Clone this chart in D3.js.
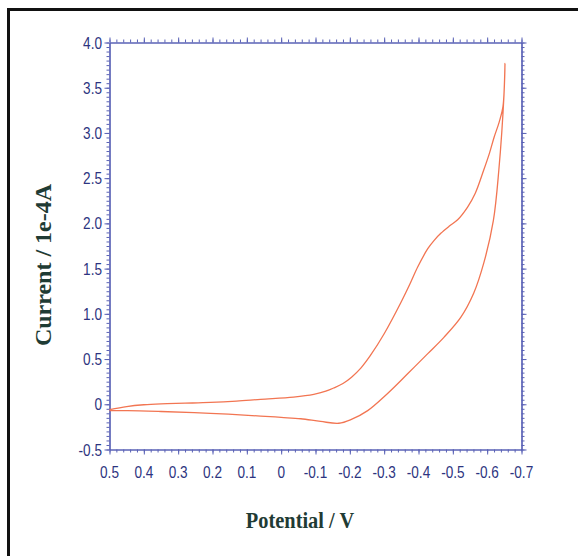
<!DOCTYPE html>
<html>
<head>
<meta charset="utf-8">
<script src="https://cdn.jsdelivr.net/npm/d3@7"></script>
<style>
  html, body { margin: 0; padding: 0; background: #ffffff; }
  svg { display: block; }
  .tick-label { font-family: "Liberation Sans", Arial, sans-serif; font-size: 17px; fill: #2d3480; }
  .axis-title { font-family: "Liberation Serif", "Times New Roman", serif; font-weight: bold; fill: #1f3b34; }
</style>
</head>
<body>
<svg id="chart" width="578" height="556"></svg>
<script>
// Cyclic voltammogram: forward scan (upper branch) then reverse scan (lower branch)
const potential = [
  0.5, 0.45, 0.40, 0.35, 0.28, 0.206, 0.13, 0.06, -0.036, -0.095, -0.13, -0.153, -0.18,
  -0.205, -0.232, -0.26, -0.30, -0.348, -0.375, -0.398, -0.427, -0.445, -0.465, -0.49, -0.514,
  -0.543, -0.565, -0.59, -0.607, -0.62, -0.635, -0.646, -0.652, -0.649,
  -0.634, -0.618, -0.59, -0.561, -0.523, -0.474, -0.427, -0.369, -0.31, -0.252,
  -0.203, -0.168, -0.115, -0.057, 0.0, 0.06, 0.206, 0.35, 0.447, 0.5
];
const current = [
  -0.06, -0.025, -0.005, 0.005, 0.012, 0.02, 0.035, 0.055, 0.08, 0.11, 0.145, 0.18, 0.23,
  0.30, 0.40, 0.54, 0.78, 1.12, 1.33, 1.52, 1.72, 1.81, 1.89, 1.97, 2.04,
  2.18, 2.33, 2.59, 2.78, 2.95, 3.12, 3.29, 3.77, 3.42,
  2.59, 2.03, 1.56, 1.23, 0.96, 0.74, 0.56, 0.34, 0.12, -0.07,
  -0.17, -0.21, -0.19, -0.16, -0.145, -0.13, -0.10, -0.08, -0.07, -0.07
];

const xTicks = [0.5, 0.4, 0.3, 0.2, 0.1, 0, -0.1, -0.2, -0.3, -0.4, -0.5, -0.6, -0.7];
const yTicks = [-0.5, 0, 0.5, 1.0, 1.5, 2.0, 2.5, 3.0, 3.5, 4.0];
const xLabels = ["0.5", "0.4", "0.3", "0.2", "0.1", "0", "-0.1", "-0.2", "-0.3", "-0.4", "-0.5", "-0.6", "-0.7"];
const yLabels = ["-0.5", "0", "0.5", "1.0", "1.5", "2.0", "2.5", "3.0", "3.5", "4.0"];

const svg = d3.select("#chart");
const plot = { left: 109.5, right: 521.5, top: 42.5, bottom: 449.5 };

const x = d3.scaleLinear().domain([0.5, -0.7]).range([plot.left, plot.right]);
const y = d3.scaleLinear().domain([-0.5, 4.0]).range([plot.bottom, plot.top]);

// outer frame
svg.append("rect")
  .attr("x", 8.5).attr("y", 9.5)
  .attr("width", 574).attr("height", 560)
  .attr("fill", "none").attr("stroke", "#111").attr("stroke-width", 3);

const axisColor = "#5a62b6";
const minorX = d3.range(0, 61).map(i => 0.5 - i * 0.02);
const minorY = d3.range(0, 91).map(i => -0.5 + i * 0.05);

function styleAxis(g) {
  g.select(".domain").attr("stroke", axisColor).attr("stroke-width", 1.2);
  g.selectAll(".tick line").attr("stroke", axisColor).attr("stroke-width", 1);
  g.selectAll("text").remove();
}

// minor ticks
svg.append("g").attr("transform", `translate(0,${plot.bottom})`)
  .call(d3.axisBottom(x).tickValues(minorX).tickSize(3).tickSizeOuter(0)).call(styleAxis);
svg.append("g").attr("transform", `translate(0,${plot.top})`)
  .call(d3.axisTop(x).tickValues(minorX).tickSize(3).tickSizeOuter(0)).call(styleAxis);
svg.append("g").attr("transform", `translate(${plot.left},0)`)
  .call(d3.axisLeft(y).tickValues(minorY).tickSize(3).tickSizeOuter(0)).call(styleAxis);
svg.append("g").attr("transform", `translate(${plot.right},0)`)
  .call(d3.axisRight(y).tickValues(minorY).tickSize(3).tickSizeOuter(0)).call(styleAxis);

// major ticks
svg.append("g").attr("transform", `translate(0,${plot.bottom})`)
  .call(d3.axisBottom(x).tickValues(xTicks).tickSize(5).tickSizeOuter(0)).call(styleAxis);
svg.append("g").attr("transform", `translate(0,${plot.top})`)
  .call(d3.axisTop(x).tickValues(xTicks).tickSize(5).tickSizeOuter(0)).call(styleAxis);
svg.append("g").attr("transform", `translate(${plot.left},0)`)
  .call(d3.axisLeft(y).tickValues(yTicks).tickSize(5).tickSizeOuter(0)).call(styleAxis);
svg.append("g").attr("transform", `translate(${plot.right},0)`)
  .call(d3.axisRight(y).tickValues(yTicks).tickSize(5).tickSizeOuter(0)).call(styleAxis);

// tick labels (condensed face)
svg.append("g").selectAll("text").data(xTicks).join("text")
  .attr("class", "tick-label")
  .attr("transform", d => `translate(${x(d)},478) scale(0.8,1)`)
  .attr("text-anchor", "middle")
  .text((d, i) => xLabels[i]);

svg.append("g").selectAll("text").data(yTicks).join("text")
  .attr("class", "tick-label")
  .attr("transform", d => `translate(102,${y(d) + 6}) scale(0.8,1)`)
  .attr("text-anchor", "end")
  .text((d, i) => yLabels[i]);

// voltammogram trace
const pts = potential.map((v, i) => [v, current[i]]);
const line = d3.line()
  .x(d => x(d[0])).y(d => y(d[1]))
  .curve(d3.curveCatmullRom.alpha(0.5));
svg.append("path")
  .datum(pts)
  .attr("d", line)
  .attr("fill", "none")
  .attr("stroke", "#f27552")
  .attr("stroke-width", 1.3)
  .attr("stroke-linejoin", "round");

// axis titles
svg.append("text")
  .attr("class", "axis-title")
  .attr("font-size", 24)
  .attr("text-anchor", "middle")
  .attr("transform", "translate(300,528) scale(0.85,1)")
  .text("Potential / V");

svg.append("text")
  .attr("class", "axis-title")
  .attr("font-size", 24)
  .attr("text-anchor", "middle")
  .attr("transform", "translate(51,265) rotate(-90)")
  .text("Current / 1e-4A");
</script>
</body>
</html>
